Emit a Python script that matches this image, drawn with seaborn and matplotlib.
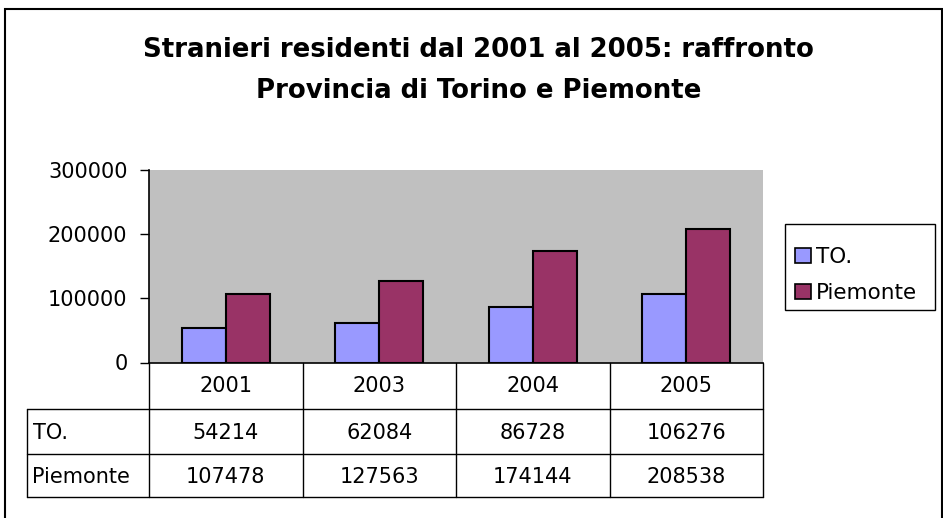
import matplotlib
matplotlib.use("Agg")
import matplotlib.pyplot as plt
import seaborn as sns
import pandas as pd
from matplotlib.lines import Line2D
from matplotlib.patches import Rectangle

years = ["2001", "2003", "2004", "2005"]
series_names = ["TO.", "Piemonte"]
to_values = [54214, 62084, 86728, 106276]
piemonte_values = [107478, 127563, 174144, 208538]
yticks = [0, 100000, 200000, 300000]
title_lines = ["Stranieri residenti dal 2001 al 2005: raffronto",
               "Provincia di Torino e Piemonte"]
colors = ["#9999FF", "#993366"]

df = pd.DataFrame({
    "year": years * 2,
    "serie": [series_names[0]] * len(years) + [series_names[1]] * len(years),
    "value": to_values + piemonte_values,
})

sns.set_theme(style="white")
plt.rcParams["font.family"] = ["DejaVu Sans"]
plt.rcParams["text.color"] = "black"
plt.rcParams["ytick.color"] = "black"
plt.rcParams["ytick.labelcolor"] = "black"

W, H = 943, 518
fig = plt.figure(figsize=(W / 100, H / 100), dpi=100)

def fx(px):
    return px / W

def fy(py):
    return 1 - py / H

left, right, top, bottom = 149, 763, 170, 362.5
ax = fig.add_axes([fx(left), fy(bottom), fx(right) - fx(left), fy(top) - fy(bottom)])
ax.set_facecolor("#C0C0C0")

sns.barplot(data=df, x="year", y="value", hue="serie", order=years,
            hue_order=series_names, palette=colors, width=0.573, gap=0,
            edgecolor="black", linewidth=1.5, saturation=1, ax=ax, legend=False)

fs = 15

ax.set_xlim(-0.5, len(years) - 0.5)
ax.set_ylim(0, 300000)
ax.set_yticks(yticks)
ax.set_yticklabels([str(v) for v in yticks], fontsize=fs, color="black")
ax.tick_params(axis="y", direction="out", length=6.5, width=1, color="black", pad=9, left=True)
ax.tick_params(axis="x", bottom=False, labelbottom=False)
ax.set_xlabel("")
ax.set_ylabel("")
for s in ["top", "right"]:
    ax.spines[s].set_visible(False)
ax.spines["left"].set_color("black")
ax.spines["left"].set_linewidth(1.2)
ax.spines["bottom"].set_color("black")
ax.spines["bottom"].set_linewidth(1.2)

# Title
fig.text(fx(478.5), fy(56.7), title_lines[0], ha="center", va="baseline", fontsize=18.7,
         fontweight="bold", color="black")
fig.text(fx(478.5), fy(98), title_lines[1], ha="center", va="baseline", fontsize=18.7,
         fontweight="bold", color="black")

# Data table
col_w = (right - left) / len(years)
row_lines = [bottom, 409, 454, 497]
tbl_left = 27
lw = 1.0
for yy in row_lines[1:]:
    fig.add_artist(Line2D([fx(tbl_left), fx(right)], [fy(yy), fy(yy)],
                          transform=fig.transFigure, color="black", lw=lw))
for j in range(len(years) + 1):
    xx = left + j * col_w
    fig.add_artist(Line2D([fx(xx), fx(xx)], [fy(bottom), fy(497)],
                          transform=fig.transFigure, color="black", lw=lw))
fig.add_artist(Line2D([fx(tbl_left), fx(tbl_left)], [fy(409), fy(497)],
                      transform=fig.transFigure, color="black", lw=lw))

def row_base(y0, y1):
    return (y0 + y1) / 2 + 7.5

for j, yr in enumerate(years):
    cx = left + (j + 0.5) * col_w
    fig.text(fx(cx), fy(row_base(bottom, 409) - 1), yr, ha="center", va="baseline", fontsize=fs, color="black")
    fig.text(fx(cx), fy(row_base(409, 454)), str(to_values[j]), ha="center", va="baseline", fontsize=fs, color="black")
    fig.text(fx(cx), fy(row_base(454, 497)), str(piemonte_values[j]), ha="center", va="baseline", fontsize=fs, color="black")
fig.text(fx(tbl_left + 6), fy(row_base(409, 454)), series_names[0], ha="left", va="baseline", fontsize=fs, color="black")
fig.text(fx(tbl_left + 5), fy(row_base(454, 497)), series_names[1], ha="left", va="baseline", fontsize=fs, color="black")

# Legend (drawn manually for exact placement)
fig.add_artist(Rectangle((fx(785), fy(310)), fx(935) - fx(785), fy(224) - fy(310),
                         transform=fig.transFigure, facecolor="white", edgecolor="black", lw=1.0))
leg_rows = [255.5, 291.5]
for name, c, yc in zip(series_names, colors, leg_rows):
    fig.add_artist(Rectangle((fx(795), fy(yc + 7.5)), fx(811) - fx(795), fy(yc - 7.5) - fy(yc + 7.5),
                             transform=fig.transFigure, facecolor=c, edgecolor="black", lw=1.2))
    fig.text(fx(816), fy(yc + 7.5), name, ha="left", va="baseline", fontsize=15.5, color="black")

# Outer border
fig.add_artist(Rectangle((fx(4.5), fy(520)), fx(941.5) - fx(4.5), fy(8.5) - fy(520),
                         transform=fig.transFigure, fill=False, edgecolor="black", lw=1.5))

fig.savefig("out.png", dpi=100)
